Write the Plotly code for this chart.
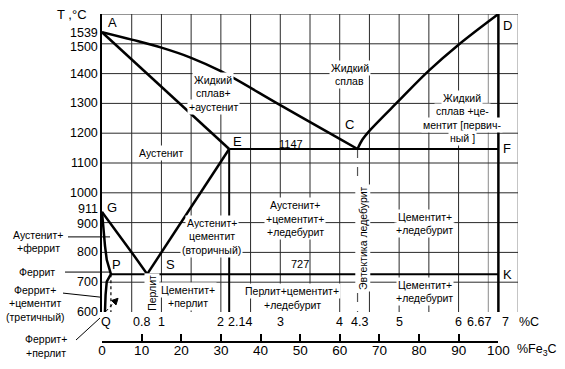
import plotly.graph_objects as go

# ---------------- data (%C, °C) ----------------
LIQ_AC_C = [0.0, 0.5, 1.0, 1.5, 2.0, 3.0, 4.0, 4.3]
LIQ_AC_T = [1539, 1514, 1487, 1453, 1408, 1294, 1181, 1147]
LIQ_CD_C = [4.3, 4.38, 4.5, 5.0, 5.5, 6.0, 6.67]
LIQ_CD_T = [1147, 1178, 1208, 1310, 1410, 1497, 1600]
SOL_AE_C = [0.0, 2.14]
SOL_AE_T = [1539, 1147]
ECF_C = [2.14, 6.67]
ECF_T = [1147, 1147]
EV_C = [2.14, 2.14]
EV_T = [1147, 600]
DFK_C = [6.67, 6.67]
DFK_T = [1600, 600]
ES_C = [2.14, 0.76]
ES_T = [1147, 727]
GS_C = [0.0, 0.25, 0.5, 0.76]
GS_T = [936, 868, 800, 727]
GPQ_C = [0.0, 0.02, 0.05, 0.08, 0.15, 0.08, 0.06, 0.05]
GPQ_T = [936, 880, 823, 775, 727, 702, 657, 600]
PSK_C = [0.15, 6.67]
PSK_T = [727, 727]
P_DOT_C = [0.15, 0.15]
P_DOT_T = [727, 600]
S_DOT_C = [0.76, 0.76]
S_DOT_T = [727, 600]
EUT_C = [4.3, 4.3]
EUT_T = [1147, 600]

POINT_NAMES = ["A", "C", "D", "E", "F", "G", "P", "S", "K"]
POINT_C = [0.0, 4.3, 6.67, 2.14, 6.67, 0.0, 0.15, 0.76, 6.67]
POINT_T = [1539, 1147, 1600, 1147, 1147, 936, 727, 727, 727]

T_TICKS = [600, 700, 800, 900, 911, 1000, 1100, 1200, 1300, 1400, 1500, 1539]
C_TICKS = [0, 0.8, 1, 2, 2.14, 3, 4, 4.3, 5, 6, 6.67, 7]
C_TICK_TEXT = ["Q", "0.8", "1", "2", "2.14", "3", "4", "4.3", "5", "6", "6.67", "7"]
FE3C_TICKS = [0, 10, 20, 30, 40, 50, 60, 70, 80, 90, 100]

C_MAX = 7
C_FE3C = 6.67
T_MIN, T_MAX = 600, 1600
GRID_C = [0.5 * i for i in range(1, 15)]
GRID_T = list(range(700, 1601, 100))

# ---------------- figure ----------------
FONT = "Liberation Sans, Arial, sans-serif"
W, H = 565, 369
ML, MR, MT, MB = 102, 47, 14, 28
plot_h = H - MT - MB
Y_DOM0 = 29 / plot_h
LH = 13.5  # label line spacing, px


def paper_x(c):
    return (c - 0) / C_MAX


def paper_y(t):
    return Y_DOM0 + (1 - Y_DOM0) * (t - T_MIN) / (T_MAX - T_MIN)


fig = go.Figure()


def add_line(xs, ys, width=2.5, dash=None, shape="linear", color="black"):
    fig.add_trace(go.Scatter(x=xs, y=ys, mode="lines", line_shape=shape,
                             line=dict(color=color, width=width, dash=dash),
                             hoverinfo="skip", showlegend=False, cliponaxis=False))


# grid drawn from the grid arrays
gx, gy, lx, ly = [], [], [], []
for c in GRID_C:
    if c > C_FE3C - 0.2:
        lx += [c, c, None]
        ly += [T_MIN, T_MAX, None]
    else:
        gx += [c, c, None]
        gy += [T_MIN, T_MAX, None]
for t in GRID_T:
    gx += [0, C_MAX, None]
    gy += [t, t, None]
add_line(lx, ly, 1, color="#8a8a8a")
add_line(gx, gy, 1, color="#2a2a2a")

add_line(S_DOT_C, S_DOT_T, 1.2, "dot")
add_line(P_DOT_C, P_DOT_T, 1.2, "dot")
add_line(EUT_C, EUT_T, 1.2, "dash", color="#555")
add_line(LIQ_AC_C, LIQ_AC_T, 2.5, shape="spline")
add_line(LIQ_CD_C, LIQ_CD_T, 2.5, shape="spline")
add_line(SOL_AE_C, SOL_AE_T, 2.5)
add_line(ECF_C, ECF_T, 2)
add_line(EV_C, EV_T, 2)
add_line(DFK_C, DFK_T, 2.5)
add_line(ES_C, ES_T, 2.5)
add_line(GS_C, GS_T, 2.5, shape="spline")
add_line(GPQ_C, GPQ_T, 2.5)
add_line(PSK_C, PSK_T, 2)

# dummy trace for the %Fe3C axis
fig.add_trace(go.Scatter(x=[FE3C_TICKS[0], FE3C_TICKS[-1]], y=[0, 0], xaxis="x2", yaxis="y2",
                         mode="markers", marker=dict(opacity=0), hoverinfo="skip", showlegend=False))

ann = []
SM = dict(family=FONT, size=10.5, color="black")

# y tick labels
t_shift = {1539: -1, 1500: -3, 911: 10, 900: -1}
for t in T_TICKS:
    ann.append(dict(x=0, y=t, xref="x", yref="y", text=str(t), showarrow=False,
                    xanchor="right", yanchor="middle", xshift=-3, yshift=t_shift.get(t, 0),
                    borderpad=0, font=dict(family=FONT, size=12.5, color="black")))

# %C tick labels
c_shift = {"Q": (4, "center"), "0.8": (-8, "center"), "2.14": (-3, "left"),
           "4.3": (2, "center"), "6.67": (-5, "right"), "7": (-7, "right")}
for c, txt in zip(C_TICKS, C_TICK_TEXT):
    dx, anc = c_shift.get(txt, (0, "center"))
    ann.append(dict(x=c, y=T_MIN, xref="x", yref="y", text=txt, showarrow=False,
                    xanchor=anc, yanchor="middle", xshift=dx, yshift=-10,
                    font=dict(family=FONT, size=12.5, color="black")))
ann.append(dict(x=C_MAX, y=T_MIN, xref="x", yref="y", text="%C", showarrow=False,
                xanchor="left", yanchor="middle", xshift=-1, yshift=-10,
                font=dict(family=FONT, size=12.5, color="black")))

# axis titles
ann.append(dict(x=0, y=T_MAX, xref="x", yref="y", text="T ,°C", showarrow=False,
                xanchor="center", yanchor="middle", xshift=-30, yshift=0,
                font=dict(family=FONT, size=13, color="black")))
ann.append(dict(x=FE3C_TICKS[-1], y=0, xref="x2", yref="paper", text="%Fe<sub>3</sub>C", showarrow=False,
                xanchor="left", yanchor="middle", xshift=17, yshift=-9,
                font=dict(family=FONT, size=12.5, color="black")))

# point letters
p_off = {"A": (10, 10), "C": (-8, 24), "D": (9, -11), "E": (8, 7), "F": (9, 0),
         "G": (10, 4), "P": (6, 10), "S": (23, 10), "K": (9, 0)}
for n, c, t in zip(POINT_NAMES, POINT_C, POINT_T):
    dx, dy = p_off[n]
    ann.append(dict(x=c, y=t, xref="x", yref="y", text=n, showarrow=False,
                    xanchor="center", yanchor="middle", xshift=dx, yshift=dy,
                    font=dict(family=FONT, size=13, color="black")))


def add_label(lines, c, t, dx=0, dy=0, bg=True):
    """one annotation per text line, first line anchored at (c, t)"""
    for i, s in enumerate(lines):
        a = dict(x=c, y=t, xref="x", yref="y", text=s, showarrow=False,
                 xanchor="center", yanchor="middle", xshift=dx, yshift=dy - i * LH,
                 font=SM)
        if bg:
            a.update(bgcolor="white", borderpad=1)
        ann.append(a)


# region labels (first-line position)
regions = [
    (["Жидкий", "сплав+", "+аустенит"], 1.87, 1379),
    (["Жидкий", "сплав"], 4.17, 1419),
    (["Жидкий", "сплав +це-", "ментит [первич-", "ный ]"], 6.06, 1319),
    (["Аустенит"], 1.0, 1134),
    (["Аустенит+", "+цементит+", "+ледебурит"], 3.25, 959),
    (["Аустенит+", "цементит", "(вторичный)"], 1.85, 899),
    (["Цементит+", "+ледебурит"], 5.43, 919),
    (["Цементит+", "+перлит"], 1.45, 674),
    (["Перлит+цементит+", "+ледебурит"], 3.2, 670),
    (["Цементит+", "+ледебурит"], 5.43, 691),
]
for lines, c, t in regions:
    add_label(lines, c, t)

for txt, c, t in [("1147", 3.18, 1163), ("727", 3.33, 761)]:
    ann.append(dict(x=c, y=t, xref="x", yref="y", text=txt, showarrow=False,
                    xanchor="center", yanchor="middle",
                    font=dict(family=FONT, size=11, color="black")))
ann.append(dict(x=4.39, y=848, xref="x", yref="y", text="Эвтектика ледебурит", textangle=-90,
                showarrow=False, bgcolor="white", borderpad=1, font=SM))
ann.append(dict(x=0.84, y=664, xref="x", yref="y", text="Перлит", textangle=-90,
                showarrow=False, bgcolor="white", borderpad=1, font=SM))

# left labels (outside the plot, shifted from x = 0)
add_label(["Аустенит+", "+феррит"], 0, 859, dx=-64, bg=False)
add_label(["Феррит"], 0, 734, dx=-65, bg=False)
add_label(["Феррит+", "+цементит", "(третичный)"], 0, 674, dx=-67, bg=False)
add_label(["Феррит+", "+перлит"], 0, T_MIN, dx=-56, dy=-27, bg=False)

# leader lines: anchor point (%C, °C) + pixel offsets (x right, y up)
shapes = []
leaders = [
    (0.135, 852, -42, 0, 0, 0),
    (0.135, 734, -45, 0, 0, 0),
    (0, 650, -39, 4, -2, 0),
    (0, T_MIN, -26, -28, -2, -6),
]
for c, t, x0, y0, x1, y1 in leaders:
    shapes.append(dict(type="line", xref="paper", yref="paper",
                       xsizemode="pixel", ysizemode="pixel",
                       xanchor=paper_x(c), yanchor=paper_y(t),
                       x0=x0, y0=y0, x1=x1, y1=y1,
                       line=dict(color="black", width=1)))
# dotted arrow towards the tertiary-cementite zone
ARROW_C, ARROW_T = 0.27, 646
shapes.append(dict(type="line", xref="paper", yref="paper", xsizemode="pixel", ysizemode="pixel",
                   xanchor=paper_x(ARROW_C), yanchor=paper_y(ARROW_T),
                   x0=-12, y0=-13, x1=-3, y1=-3, line=dict(color="black", width=1, dash="dot")))
shapes.append(dict(type="path", xref="paper", yref="paper", xsizemode="pixel", ysizemode="pixel",
                   xanchor=paper_x(ARROW_C), yanchor=paper_y(ARROW_T),
                   path="M 0 0 L -6.5 -2.2 L -2 -6.6 Z",
                   fillcolor="black", line=dict(color="black", width=1)))

fig.update_layout(
    template="none",
    width=W, height=H, margin=dict(l=ML, r=MR, t=MT, b=MB, pad=0, autoexpand=False),
    paper_bgcolor="white", plot_bgcolor="white", showlegend=False,
    annotations=ann, shapes=shapes,
    xaxis=dict(domain=[0, 1], range=[0, C_MAX], anchor="y", automargin=False,
               showticklabels=False, ticks="", showgrid=False,
               zeroline=False, showline=False, fixedrange=True),
    yaxis=dict(domain=[Y_DOM0, 1], range=[T_MIN, T_MAX], anchor="x", automargin=False,
               showticklabels=False, ticks="", showgrid=False,
               zeroline=False, showline=True, linecolor="black", linewidth=2, fixedrange=True),
    xaxis2=dict(domain=[0, C_FE3C / C_MAX], range=[FE3C_TICKS[0], FE3C_TICKS[-1]], anchor="y2",
                automargin=False, tickvals=FE3C_TICKS, ticks="inside", ticklen=7, tickwidth=1.5,
                tickcolor="black", showline=True, linecolor="black", linewidth=1.5,
                showgrid=False, zeroline=False, ticklabelstandoff=-4,
                tickfont=dict(family=FONT, size=13.5, color="black"), fixedrange=True),
    yaxis2=dict(domain=[0, Y_DOM0], range=[0, 1], visible=False, fixedrange=True, automargin=False),
)

fig.write_html("out.html", config={"displayModeBar": False},
               post_script="document.body.style.margin='0';")
